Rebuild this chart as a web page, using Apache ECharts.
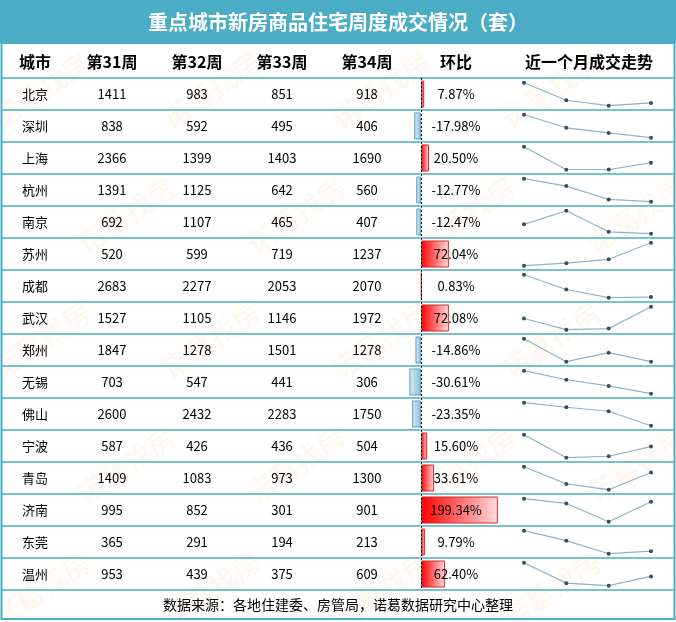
<!DOCTYPE html>
<html>
<head>
<meta charset="utf-8">
<script src="https://cdn.jsdelivr.net/npm/echarts@6/dist/echarts.min.js"></script>
<style>
  html, body { margin: 0; padding: 0; background: #fff; }
  #chart { width: 676px; height: 622px; }
</style>
</head>
<body>
<div id="chart"></div>
<script>
var cities = ['北京', '深圳', '上海', '杭州', '南京', '苏州', '成都', '武汉', '郑州', '无锡', '佛山', '宁波', '青岛', '济南', '东莞', '温州'];
var headers = ['城市', '第31周', '第32周', '第33周', '第34周', '环比', '近一个月成交走势'];
var weekNames = ['第31周', '第32周', '第33周', '第34周'];
var week31 = [1411, 838, 2366, 1391, 692, 520, 2683, 1527, 1847, 703, 2600, 587, 1409, 995, 365, 953];
var week32 = [983, 592, 1399, 1125, 1107, 599, 2277, 1105, 1278, 547, 2432, 426, 1083, 852, 291, 439];
var week33 = [851, 495, 1403, 642, 465, 719, 2053, 1146, 1501, 441, 2283, 436, 973, 301, 194, 375];
var week34 = [918, 406, 1690, 560, 407, 1237, 2070, 1972, 1278, 306, 1750, 504, 1300, 901, 213, 609];
var huanbi = [7.87, -17.98, 20.50, -12.77, -12.47, 72.04, 0.83, 72.08, -14.86, -30.61, -23.35, 15.60, 33.61, 199.34, 9.79, 62.40];

var title = '重点城市新房商品住宅周度成交情况（套）';
var source = '数据来源：各地住建委、房管局，诺葛数据研究中心整理';

var TEAL = '#4BACC6';
var FONT = '"Noto Sans CJK SC", "Noto Sans", sans-serif';
var rowTop = 78, rowH = 32;
var colX = [35, 112, 197, 282, 367, 456, 589];

var chart = echarts.init(document.getElementById('chart'));

var elements = [];
// title band and frame
elements.push({ type: 'rect', z: 0, shape: { x: 0, y: 0, width: 676, height: 43 }, style: { fill: TEAL } });
elements.push({ type: 'rect', z: 1, shape: { x: 1.5, y: 43, width: 673, height: 576 }, style: { fill: 'none', stroke: TEAL, lineWidth: 2 } });
elements.push({
	type: 'text', z: 100, x: 338, y: 22,
	style: { text: title, fill: '#fff', font: 'bold 20px ' + FONT, align: 'center', verticalAlign: 'middle' }
});

// watermark
for (var wy = 90; wy < 640; wy += 125) {
	for (var wx = -20; wx < 720; wx += 170) {
		elements.push({
			type: 'text', z: 1, x: wx + ((wy / 125) % 2) * 85, y: wy, rotation: 0.6,
			style: { text: '诺葛找房', fill: 'rgba(240,150,70,0.07)', font: 'bold 28px ' + FONT, align: 'center', verticalAlign: 'middle' }
		});
	}
}

// row lines
for (var r = 0; r <= cities.length; r++) {
	elements.push({
		type: 'line', z: 1,
		shape: { x1: 2, y1: rowTop + r * rowH, x2: 674, y2: rowTop + r * rowH },
		style: { stroke: TEAL, lineWidth: 1.5 }
	});
}

// header
headers.forEach(function (h, c) {
	elements.push({
		type: 'text', z: 100, x: colX[c], y: 62,
		style: { text: h, fill: '#000', font: 'bold 16px ' + FONT, align: 'center', verticalAlign: 'middle' }
	});
});

// cells
var weeks = [week31, week32, week33, week34];
cities.forEach(function (city, i) {
	var cy = rowTop + i * rowH + 16;
	elements.push({
		type: 'text', z: 100, x: colX[0], y: cy,
		style: { text: city, fill: '#000', font: '13px ' + FONT, align: 'center', verticalAlign: 'middle' }
	});
	weeks.forEach(function (w, c) {
		elements.push({
			type: 'text', z: 100, x: colX[c + 1], y: cy,
			style: { text: String(w[i]), fill: '#000', font: '13px ' + FONT, align: 'center', verticalAlign: 'middle' }
		});
	});
	elements.push({
		type: 'text', z: 100, x: colX[5], y: cy,
		style: { text: huanbi[i].toFixed(2) + '%', fill: '#000', font: '13px ' + FONT, align: 'center', verticalAlign: 'middle' }
	});
});

elements.push({
	type: 'text', z: 100, x: 338, y: 605,
	style: { text: source, fill: '#000', font: '14px ' + FONT, align: 'center', verticalAlign: 'middle' }
});

// bars
var barData = huanbi.map(function (v) {
	var pos = v >= 0;
	return {
		value: v,
		itemStyle: {
			color: new echarts.graphic.LinearGradient(0, 0, 1, 0, pos ?
				[{ offset: 0, color: '#ff0000' }, { offset: 1, color: '#ffdcdc' }] :
				[{ offset: 0, color: '#dcedf5' }, { offset: 1, color: '#86bdd6' }]),
			borderColor: pos ? '#c8302f' : '#5b9ec0',
			borderWidth: 1
		}
	};
});

var grids = [{ left: 405, width: 100, top: rowTop, height: rowH * cities.length }];
var xAxes = [{ type: 'value', gridIndex: 0, min: -42, max: 218, show: false }];
var yAxes = [{
	type: 'category', gridIndex: 0, data: cities, inverse: true, show: false
}];
var series = [{
	type: 'bar', xAxisIndex: 0, yAxisIndex: 0, data: barData, barWidth: 27, z: 3,
	markLine: {
		silent: true, symbol: 'none', label: { show: false },
		lineStyle: { color: '#000', type: [2, 2], width: 1 },
		data: [{ xAxis: 0 }]
	}
}];

// sparklines
cities.forEach(function (city, i) {
	var g = i + 1;
	grids.push({ left: 524, width: 127, top: rowTop + i * rowH + 4.7, height: 23 });
	xAxes.push({ type: 'category', gridIndex: g, data: weekNames, boundaryGap: false, show: false });
	yAxes.push({
		type: 'value', gridIndex: g, show: false,
		min: function (v) { return v.min; }, max: function (v) { return v.max; }
	});
	series.push({
		type: 'line', xAxisIndex: g, yAxisIndex: g,
		data: [week31[i], week32[i], week33[i], week34[i]],
		symbol: 'circle', symbolSize: 4, showSymbol: true,
		lineStyle: { color: '#8db5c9', width: 1.2 },
		itemStyle: { color: '#34505f' },
		z: 3
	});
});

var option = {
	backgroundColor: '#fff',
	animation: false,
	graphic: { elements: elements },
	grid: grids,
	xAxis: xAxes,
	yAxis: yAxes,
	series: series
};

chart.setOption(option);
</script>
</body>
</html>
